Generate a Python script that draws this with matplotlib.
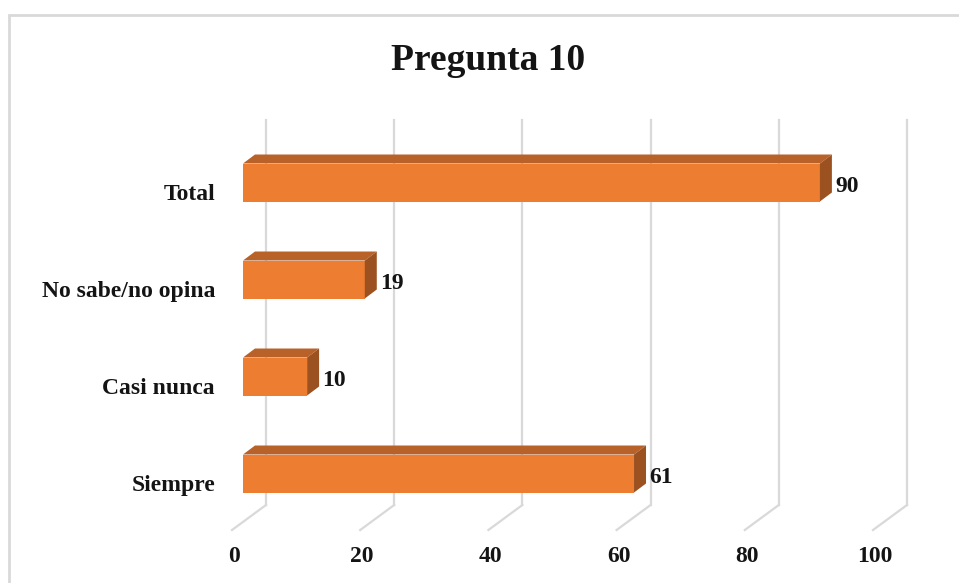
import matplotlib.pyplot as plt
from matplotlib.patches import Polygon, Rectangle
from matplotlib.transforms import ScaledTranslation, blended_transform_factory

categories = ["Siempre", "Casi nunca", "No sabe/no opina", "Total"]
values = [61, 10, 19, 90]
x_ticks = [0, 20, 40, 60, 80, 100]

FRONT = "#ED7D31"
TOP = "#B8622A"
SIDE = "#9C5220"
GRID = "#D9D9D9"
TEXT = "#141414"
FONT = ["Liberation Serif", "DejaVu Serif"]

DPI = 100
W, H = 959, 583


def px(x, y):
    """Pixel offset as a display translation."""
    return ScaledTranslation(x / DPI, y / DPI, fig.dpi_scale_trans)


fig = plt.figure(figsize=(W / DPI, H / DPI), dpi=DPI)
fig.patch.set_facecolor("white")

# chart area border (right and bottom run off the canvas)
fig.patches.append(Rectangle((9 / W, -0.1), 1.2, 1 - 15 / H + 0.1,
                             transform=fig.transFigure, fill=False,
                             edgecolor="#D9D9D9", linewidth=2))

# axes in the front plane of the bars
ax_left, ax_right = 243, 884
ax_bottom, ax_top = 522, 137
ax = fig.add_axes([ax_left / W, 1 - ax_bottom / H,
                   (ax_right - ax_left) / W, (ax_bottom - ax_top) / H])
ax.set_xlim(0, 100)
ax.set_ylim(-0.5, -0.5 + (ax_bottom - ax_top) / 97)
ax.set_axis_off()

# depth offsets of the 3D box, in pixels
floor_front = (-11, -8)
floor_back = (23, 17)
bar_depth = (12, 9)

# gridlines: slanted on the floor, vertical on the back wall
gtrans = blended_transform_factory(ax.transData, ax.transAxes)
back = gtrans + px(*floor_back)
front = gtrans + px(*floor_front)
for v in x_ticks:
    ax.plot([v, v], [0, 1], color=GRID, linewidth=1.6, transform=back,
            clip_on=False, zorder=1)
    p0 = front.transform((v, 0))
    p1 = back.transform((v, 0))
    ax.plot([p0[0], p1[0]], [p0[1], p1[1]], color=GRID, linewidth=1.6,
            transform=None, clip_on=False, zorder=1)

bar_h = 38 / 97
positions = list(range(len(categories)))
ax.barh(positions, values, height=bar_h, color=FRONT, zorder=3)

# top and side faces of each bar
dx = bar_depth[0] / ((ax_right - ax_left) / 100)
dy = bar_depth[1] / 97
for y, v in zip(positions, values):
    top = y + bar_h / 2
    bot = y - bar_h / 2
    ax.add_patch(Polygon([(0, top), (v, top), (v + dx, top + dy), (dx, top + dy)],
                         closed=True, facecolor=TOP, edgecolor="none", zorder=3))
    ax.add_patch(Polygon([(v, bot), (v + dx, bot + dy), (v + dx, top + dy), (v, top)],
                         closed=True, facecolor=SIDE, edgecolor="none", zorder=3))
    ax.text(v, y, str(v), transform=ax.transData + px(bar_depth[0] + 3, -4),
            ha="left", va="center", fontsize=17, fontweight="bold",
            family=FONT, color=TEXT, zorder=4)

# category labels, aligned with the floor front edge
for y, name in zip(positions, categories):
    ax.text(0, y, name, transform=ax.transData + px(-28, -12),
            ha="right", va="center", fontsize=17, fontweight="bold",
            family=FONT, color=TEXT)

# value axis labels
for v in x_ticks:
    ax.text(v, 0, str(v), transform=gtrans + px(-9, -34),
            ha="center", va="center", fontsize=17, fontweight="bold",
            family=FONT, color=TEXT)

fig.text(488 / W, 1 - 61 / H, "Pregunta 10", ha="center", va="center",
         fontsize=27, fontweight="bold", family=FONT, color=TEXT)

fig.savefig("out.png", dpi=DPI)
